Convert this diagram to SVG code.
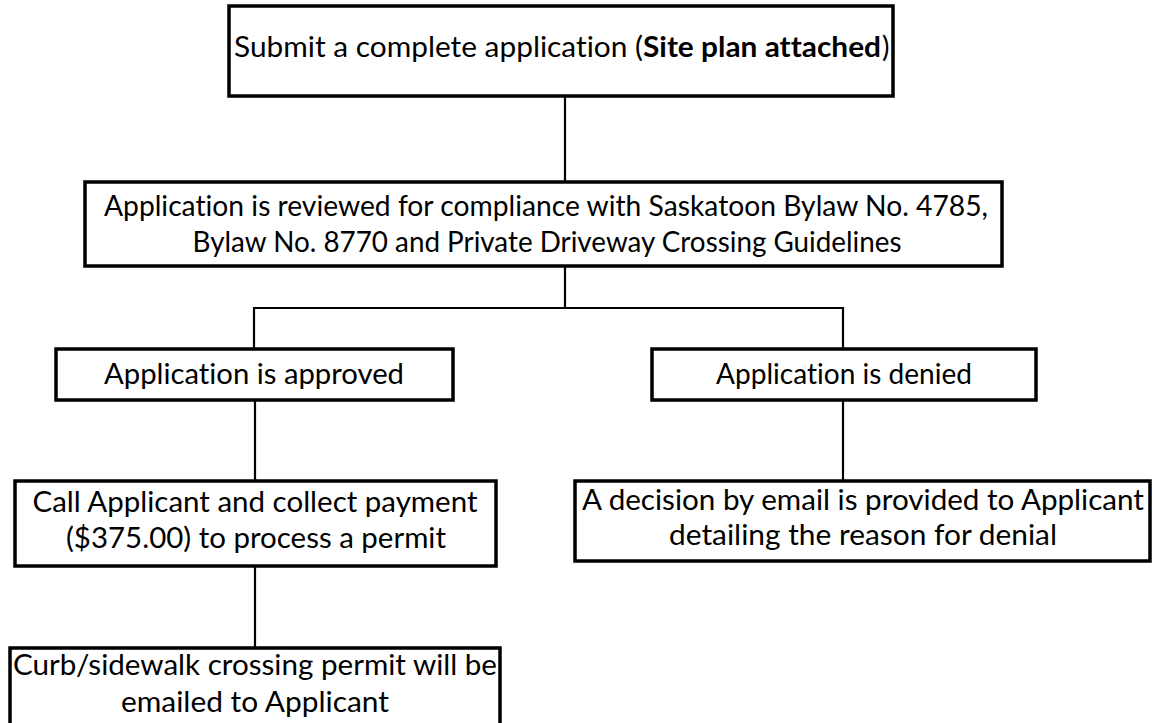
<svg xmlns="http://www.w3.org/2000/svg" width="1154" height="723" viewBox="0 0 1154 723">
<style>
.box{fill:#fff;stroke:#000;stroke-width:3.5}
.t{font-family:Lato,"Liberation Sans",sans-serif;font-size:28px;fill:#000;text-anchor:middle;font-variant-ligatures:none;font-feature-settings:"liga" 0,"clig" 0}
.s{text-anchor:start}
.b{font-weight:bold}
.c{fill:none;stroke:#000;stroke-width:2.2}
</style>
<rect width="1154" height="723" fill="#fff"/>
<g id="connectors">
<line class="c" x1="565" y1="97" x2="565" y2="181"/>
<line class="c" x1="565" y1="267" x2="565" y2="308"/>
<polyline class="c" points="254,349 254,308 843,308 843,349"/>
<line class="c" x1="255" y1="400" x2="255" y2="481"/>
<line class="c" x1="255" y1="566" x2="255" y2="648"/>
<line class="c" x1="843" y1="400" x2="843" y2="481"/>
</g>
<g id="n1">
<rect class="box" x="229" y="6" width="664" height="90"/>
<text class="t s" x="234" y="57" textLength="409" lengthAdjust="spacingAndGlyphs">Submit a complete application (</text>
<text class="t s b" x="643" y="57" textLength="238" lengthAdjust="spacingAndGlyphs">Site plan attached</text>
<text class="t s" x="882" y="57" font-size="20">)</text>
</g>
<g id="n2">
<rect class="box" x="85" y="182" width="917" height="84"/>
<text class="t" x="546" y="216" textLength="884" lengthAdjust="spacingAndGlyphs">Application is reviewed for compliance with Saskatoon Bylaw No. 4785,</text>
<text class="t" x="547" y="252" textLength="709" lengthAdjust="spacingAndGlyphs">Bylaw No. 8770 and Private Driveway Crossing Guidelines</text>
</g>
<g id="n3">
<rect class="box" x="56" y="349" width="397" height="51"/>
<text class="t" x="254" y="384" textLength="300" lengthAdjust="spacingAndGlyphs">Application is approved</text>
</g>
<g id="n4">
<rect class="box" x="652" y="349" width="384" height="51"/>
<text class="t" x="844" y="384" textLength="256" lengthAdjust="spacingAndGlyphs">Application is denied</text>
</g>
<g id="n5">
<rect class="box" x="15" y="481" width="481" height="85"/>
<text class="t" x="255" y="512" textLength="445" lengthAdjust="spacingAndGlyphs">Call Applicant and collect payment</text>
<text class="t" x="256" y="548" textLength="380" lengthAdjust="spacingAndGlyphs">($375.00) to process a permit</text>
</g>
<g id="n6">
<rect class="box" x="575" y="481" width="575" height="80"/>
<text class="t" x="863" y="510" textLength="562" lengthAdjust="spacingAndGlyphs">A decision by email is provided to Applicant</text>
<text class="t" x="863" y="545" textLength="388" lengthAdjust="spacingAndGlyphs">detailing the reason for denial</text>
</g>
<g id="n7">
<rect class="box" x="10" y="648" width="490" height="90"/>
<text class="t" x="255" y="675" textLength="484" lengthAdjust="spacingAndGlyphs">Curb/sidewalk crossing permit will be</text>
<text class="t" x="255" y="712" textLength="268" lengthAdjust="spacingAndGlyphs">emailed to Applicant</text>
</g>
</svg>
